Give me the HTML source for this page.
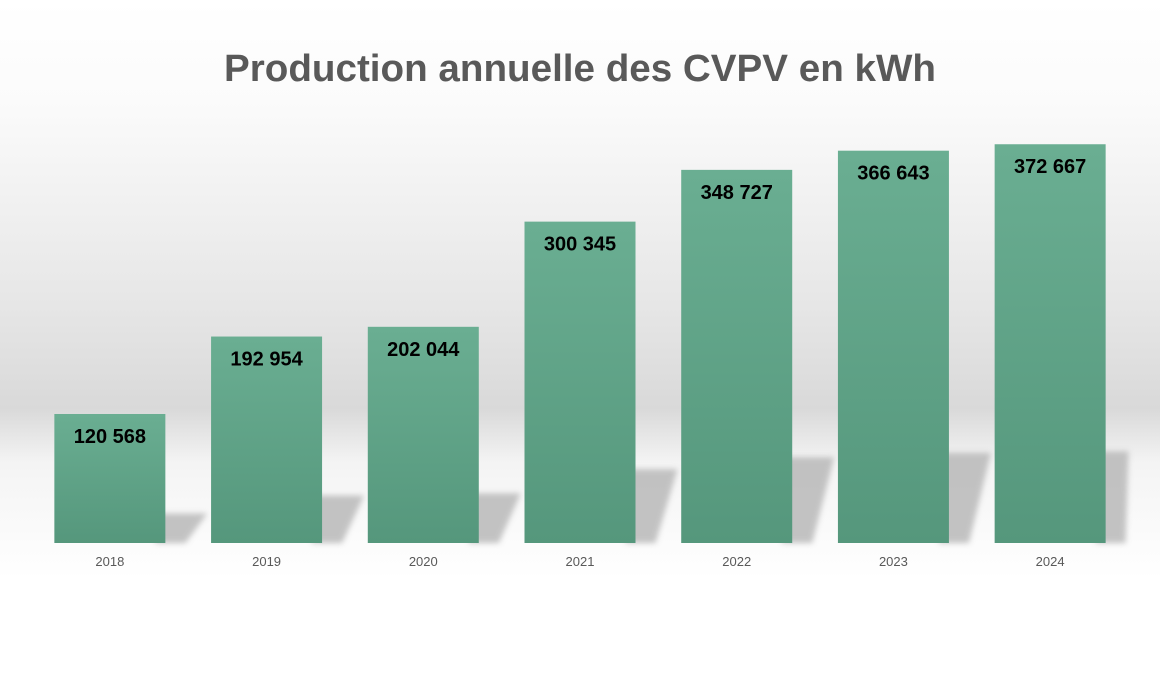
<!DOCTYPE html>
<html><head><meta charset="utf-8">
<style>
html,body{margin:0;padding:0;background:#fff;}
svg{display:block;font-family:"Liberation Sans",sans-serif;}
</style></head>
<body>
<svg id="chart" width="1160" height="681" viewBox="0 0 1160 681" xmlns="http://www.w3.org/2000/svg">
<defs>
<linearGradient id="bg" x1="0" y1="0" x2="0" y2="1">
<stop offset="0" stop-color="#ffffff"/>
<stop offset="0.15" stop-color="#fbfbfb"/>
<stop offset="0.45" stop-color="#e6e6e6"/>
<stop offset="0.6" stop-color="#d9d9d9"/>
<stop offset="0.68" stop-color="#f4f4f4"/>
<stop offset="0.85" stop-color="#ffffff"/>
<stop offset="1" stop-color="#ffffff"/>
</linearGradient>
<linearGradient id="barg" x1="0" y1="0" x2="0" y2="1">
<stop offset="0" stop-color="#6aae92"/>
<stop offset="1" stop-color="#55977c"/>
</linearGradient>
<filter id="blur" x="-20%" y="-20%" width="140%" height="140%"><feGaussianBlur stdDeviation="3"/></filter>
</defs>
<rect x="0" y="0" width="1160" height="681" fill="url(#bg)"/>
<text x="580" y="81" text-anchor="middle" font-size="38" font-weight="bold" fill="#595959" textLength="712" lengthAdjust="spacingAndGlyphs">Production annuelle des CVPV en kWh</text>
<g id="shadows"></g>
<g id="bars"></g>
<g id="labels"></g>
<g id="xticks"></g>
</svg>
<script>
const categories = ["2018","2019","2020","2021","2022","2023","2024"];
const values = [120568,192954,202044,300345,348727,366643,372667];
const valueLabels = ["120 568","192 954","202 044","300 345","348 727","366 643","372 667"];

const NS = "http://www.w3.org/2000/svg";
const plotLeft = 31.5, plotRight = 1128.5, baseY = 543, scale = 0.00107;
const band = (plotRight - plotLeft) / categories.length;
const barW = 111;
function xPos(i){ return plotLeft + band * i + (band - barW) / 2; }
function yPos(v){ return baseY - v * scale; }

const gS = document.getElementById("shadows");
const gB = document.getElementById("bars");
const gL = document.getElementById("labels");
const gX = document.getElementById("xticks");

values.forEach((v, i) => {
  const x = xPos(i), y = yPos(v), h = baseY - y;
  const sh = h * 0.23, d = 42;
  const right = Math.min(x + barW + d, plotRight);
  const p = document.createElementNS(NS, "polygon");
  
  
  p.setAttribute("points", `${x+barW-10},${baseY} ${x+barW+20},${baseY} ${right},${baseY-sh} ${x+barW-10},${baseY-sh}`);
  p.setAttribute("fill", "#b5b5b5");
  p.setAttribute("opacity", "0.8");
  p.setAttribute("filter", "url(#blur)");
  gS.appendChild(p);

  const r = document.createElementNS(NS, "rect");
  
  
  r.setAttribute("x", x); r.setAttribute("y", y);
  r.setAttribute("width", barW); r.setAttribute("height", h);
  r.setAttribute("fill", "url(#barg)");
  gB.appendChild(r);

  const t = document.createElementNS(NS, "text");
  
  
  t.setAttribute("x", x + barW / 2); t.setAttribute("y", y + 29);
  t.setAttribute("text-anchor", "middle");
  t.setAttribute("font-size", "20"); t.setAttribute("font-weight", "bold");
  t.setAttribute("fill", "#000");
  t.textContent = valueLabels[i];
  gL.appendChild(t);

  const c = document.createElementNS(NS, "text");
  
  
  c.setAttribute("x", x + barW / 2); c.setAttribute("y", 566);
  c.setAttribute("text-anchor", "middle");
  c.setAttribute("font-size", "13"); c.setAttribute("fill", "#595959");
  c.textContent = categories[i];
  gX.appendChild(c);
});
</script>
</body></html>
